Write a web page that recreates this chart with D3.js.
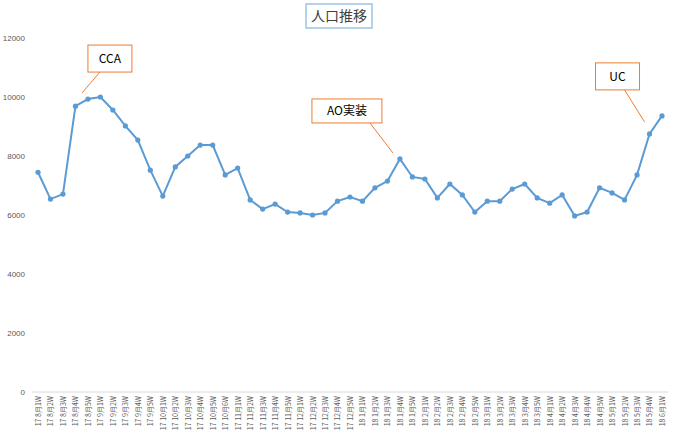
<!DOCTYPE html>
<html>
<head>
<meta charset="utf-8">
<script src="https://cdn.jsdelivr.net/npm/d3@7"></script>
<style>
  body { margin: 0; background: #fff; }
  text { font-family: "Noto Sans CJK JP", "Noto Sans", sans-serif; }
</style>
</head>
<body>
<div id="chart"></div>
<script>
// months shown on the x axis and how many weeks each one has
const months = [
    ["17", 8, 5], ["17", 9, 5], ["17", 10, 6], ["17", 11, 5], ["17", 12, 5],
    ["18", 1, 5], ["18", 2, 5], ["18", 3, 5], ["18", 4, 5], ["18", 5, 4], ["18", 6, 1]
];
const weeks = months.flatMap(([y, m, n]) => d3.range(1, n + 1).map((w) => `${y} ${m}月${w}W`));

const population = [
    7450, 6540, 6710, 9690, 9930, 10000, 9560, 9020, 8540, 7520,
    6640, 7630, 8000, 8370, 8370, 7360, 7590, 6510, 6200, 6370,
    6100, 6070, 6000, 6070, 6470, 6610, 6470, 6920, 7150, 7900,
    7290, 7220, 6580, 7050, 6680, 6100, 6470, 6470, 6880, 7050,
    6580, 6400, 6680, 5970, 6100, 6920, 6750, 6510, 7360, 8750,
    9360
];

const yTicks = [0, 2000, 4000, 6000, 8000, 10000, 12000];

// callouts: text and the week they point at
const calloutText = ["CCA", "AO実装", "UC"];
const calloutWeek = [4, 29, 49];

const width = 677;
const height = 437;
const margin = { top: 38, right: 15, bottom: 45, left: 38 };

const svg = d3.select("#chart").append("svg")
    .attr("width", width)
    .attr("height", height);

const x = d3.scalePoint()
    .domain(weeks)
    .range([margin.left, width - margin.right]);

const y = d3.scaleLinear()
    .domain([0, 12000])
    .range([height - margin.bottom, margin.top]);

// title box
const title = svg.append("g").attr("transform", "translate(339,16)");
title.append("rect")
    .attr("x", -33).attr("y", -12).attr("width", 66).attr("height", 24)
    .attr("fill", "#fff").attr("stroke", "#9DC3E6").attr("stroke-width", 1.5);
title.append("text")
    .attr("text-anchor", "middle").attr("dy", "0.36em")
    .attr("font-size", 14).attr("fill", "#404040")
    .text("人口推移");

// y axis labels, no line
const yAxis = svg.append("g")
    .attr("transform", `translate(${margin.left - 13},0)`)
    .call(d3.axisLeft(y).tickValues(yTicks).tickFormat(d3.format("d")).tickSize(0).tickPadding(0));
yAxis.select(".domain").remove();
yAxis.selectAll("text")
    .attr("font-size", 8).attr("fill", "#595959")
    .style("font-family", "'Liberation Sans', sans-serif");

// x axis
const xAxis = svg.append("g")
    .attr("transform", `translate(0,${y(0)})`)
    .call(d3.axisBottom(x).tickSize(0).tickPadding(0));
xAxis.select(".domain")
    .attr("d", `M${margin.left - 6},0H${width - 9}`)
    .attr("stroke", "#d9d9d9");
xAxis.selectAll("text")
    .attr("font-size", 7).attr("fill", "#595959")
    .attr("text-anchor", "end")
    .attr("transform", "rotate(-90)")
    .attr("x", -4).attr("y", 0).attr("dy", "0.35em");

// line + markers
svg.append("path")
    .datum(population)
    .attr("fill", "none")
    .attr("stroke", "#5B9BD5")
    .attr("stroke-width", 2)
    .attr("d", d3.line().x((d, i) => x(weeks[i])).y((d) => y(d)));

svg.append("g").selectAll("circle")
    .data(population)
    .join("circle")
    .attr("cx", (d, i) => x(weeks[i]))
    .attr("cy", (d) => y(d))
    .attr("r", 2.6)
    .attr("fill", "#5B9BD5");

// callout boxes: box offset from the point, box size, pointer tip offset
const calloutBox = [
    { dx: 0, dy: -54, w: 44, h: 27, sx: 12, tx: -6, ty: -6 },
    { dx: -88, dy: -60, w: 70, h: 24, sx: 58, tx: -7, ty: -6 },
    { dx: -54, dy: -71, w: 44, h: 27, sx: 29, tx: -5, ty: -12 }
];

calloutText.forEach((t, k) => {
    const i = calloutWeek[k];
    const px = x(weeks[i]);
    const py = y(population[i]);
    const b = calloutBox[k];
    const g = svg.append("g");
    g.append("line")
        .attr("x1", px + b.dx + b.sx).attr("y1", py + b.dy + b.h)
        .attr("x2", px + b.tx).attr("y2", py + b.ty)
        .attr("stroke", "#ED7D31").attr("stroke-width", 1);
    g.append("rect")
        .attr("x", px + b.dx).attr("y", py + b.dy)
        .attr("width", b.w).attr("height", b.h)
        .attr("fill", "#fff").attr("stroke", "#ED7D31").attr("stroke-width", 1);
    g.append("text")
        .attr("x", px + b.dx + b.w / 2).attr("y", py + b.dy + b.h / 2)
        .attr("text-anchor", "middle").attr("dy", "0.36em")
        .attr("font-size", 12).attr("fill", "#000")
        .text(t);
});
</script>
</body>
</html>
